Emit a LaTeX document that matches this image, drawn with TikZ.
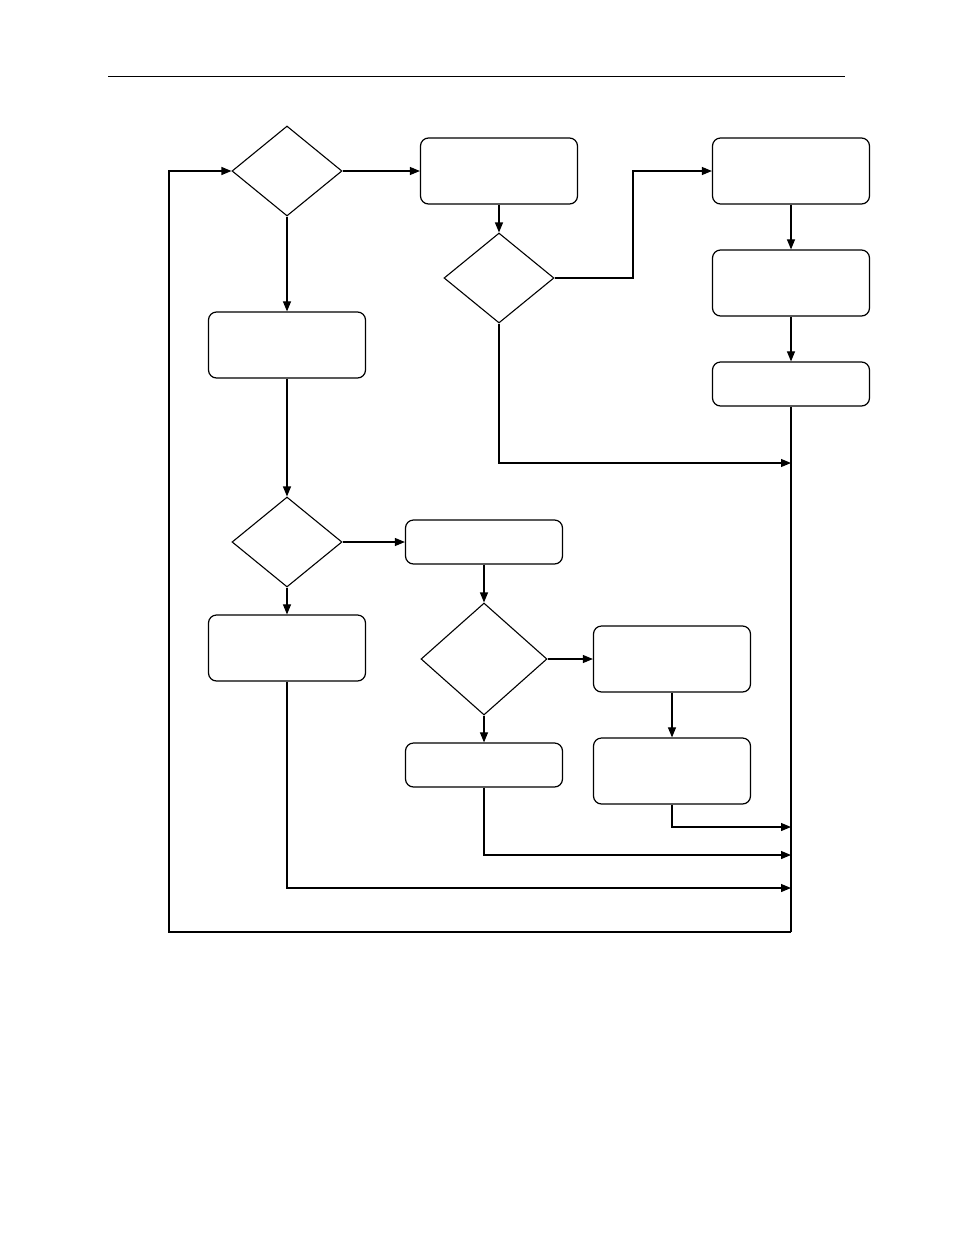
\documentclass[tikz,border=0pt]{standalone}
\usetikzlibrary{shapes.geometric,arrows.meta}
\begin{document}
\begin{tikzpicture}[x=1pt,y=-1pt,
  box/.style={draw,rounded corners=8pt,line width=1.2pt,minimum width=157pt,inner sep=0pt},
  tall/.style={box,minimum height=66pt},
  short/.style={box,minimum height=44pt},
  dia/.style={draw,diamond,line width=1.1pt,inner sep=0pt,minimum width=110pt,minimum height=90pt},
  conn/.style={line width=1.1pt},
  arr/.style={conn,-{Triangle[length=10pt,width=8pt]}}]
\useasboundingbox (0,0) rectangle (954,1235);
\draw[line width=0.9pt] (108,76) coordinate (rl) -- (845,76) coordinate (rr);
% nodes
\node[dia] (d1) at (287,171) {};
\node[tall] (b1) at (499,171) {};
\node[tall] (b2) at (791,171) {};
\node[dia] (d2) at (499,278) {};
\node[tall] (b3) at (791,283) {};
\node[short] (b4) at (791,384) {};
\node[tall] (b5) at (287,345) {};
\node[dia] (d3) at (287,542) {};
\node[short] (b6) at (484,542) {};
\node[tall] (b7) at (287,648) {};
\node[dia,minimum width=126pt,minimum height=112pt] (d4) at (484,659) {};
\node[tall] (b8) at (672,659) {};
\node[tall] (b9) at (672,771) {};
\node[short] (b10) at (484,765) {};
% bus coordinates
\coordinate (bus1) at (791,463);
\coordinate (bus2) at (791,827);
\coordinate (bus3) at (791,855);
\coordinate (bus4) at (791,888);
\coordinate (busend) at (791,932);
\coordinate (loopl) at (169,932);
\coordinate (jog) at (633,278);
% connectors
\draw[arr] (d1.east) -- (b1.west);
\draw[arr] (b1.south) -- (d2.north);
\draw[arr] (d2.east) -- (jog) |- (b2.west);
\draw[arr] (b2.south) -- (b3.north);
\draw[arr] (b3.south) -- (b4.north);
\draw[conn] (b4.south) -- (busend);
\draw[arr] (d2.south) |- (bus1);
\draw[arr] (d1.south) -- (b5.north);
\draw[arr] (b5.south) -- (d3.north);
\draw[arr] (d3.east) -- (b6.west);
\draw[arr] (d3.south) -- (b7.north);
\draw[arr] (b6.south) -- (d4.north);
\draw[arr] (d4.east) -- (b8.west);
\draw[arr] (d4.south) -- (b10.north);
\draw[arr] (b8.south) -- (b9.north);
\draw[arr] (b9.south) |- (bus2);
\draw[arr] (b10.south) |- (bus3);
\draw[arr] (b7.south) |- (bus4);
\draw[arr] (busend) -- (loopl) |- (d1.west);
\end{tikzpicture}
\end{document}
